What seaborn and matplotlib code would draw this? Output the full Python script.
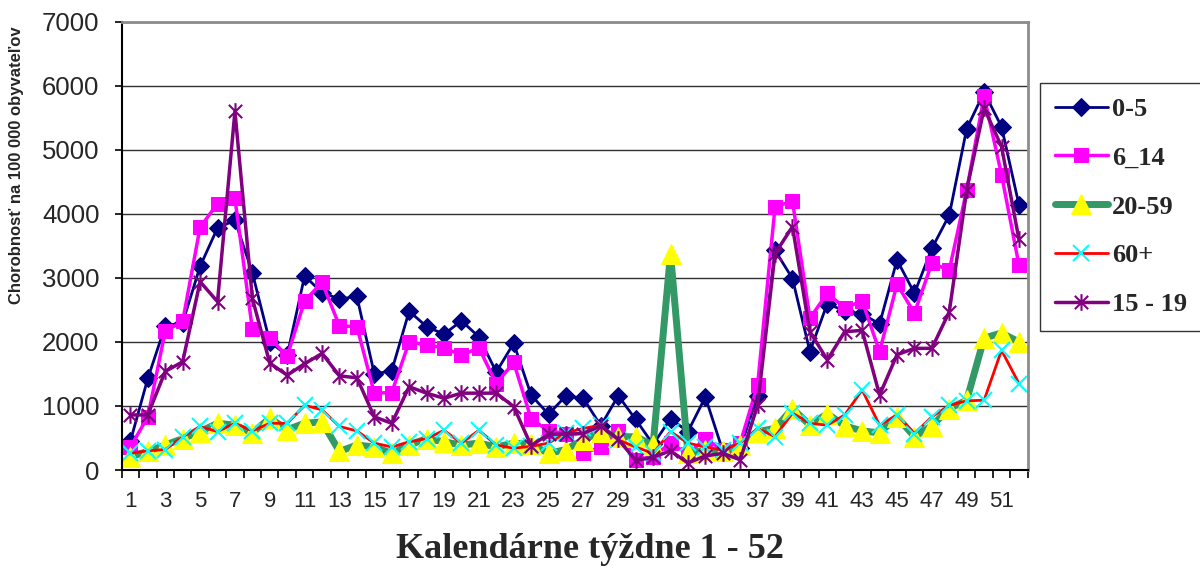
import numpy as np
import pandas as pd
import matplotlib
matplotlib.use("Agg")
import matplotlib.pyplot as plt
import seaborn as sns
from matplotlib.path import Path

# ---------------- data ----------------
weeks = list(range(1, 53))
series_names = ["0-5", "6_14", "20-59", "60+", "15 - 19"]

v_0_5 = [450, 1430, 2250, 2300, 3180, 3780, 3900, 3080, 2000, 1790,
         3030, 2770, 2670, 2710, 1500, 1550, 2480, 2240, 2120, 2330,
         2080, 1530, 1980, 1170, 870, 1160, 1120, 690, 1160, 790,
         400, 800, 600, 1140, 300, 340, 1160, 3430, 2990, 1850,
         2600, 2480, 2440, 2280, 3280, 2760, 3460, 3980, 5330, 5900,
         5360, 4140]
v_6_14 = [360, 830, 2170, 2320, 3790, 4160, 4240, 2200, 2060, 1780,
          2640, 2930, 2250, 2240, 1200, 1210, 2000, 1950, 1910, 1790,
          1910, 1350, 1680, 800, 610, 570, 260, 360, 610, 160,
          210, 420, 250, 490, 310, 420, 1330, 4110, 4200, 2370,
          2760, 2530, 2640, 1850, 2900, 2450, 3230, 3120, 4370, 5840,
          4610, 3200]
v_20_59 = [210, 290, 390, 490, 600, 730, 700, 580, 810, 630,
           730, 750, 290, 390, 360, 260, 390, 490, 440, 390,
           420, 360, 420, 400, 260, 320, 470, 600, 520, 520,
           390, 3380, 260, 310, 290, 390, 600, 650, 960, 700,
           880, 690, 610, 580, 830, 520, 690, 960, 1090, 2060,
           2140, 2000]
v_60 = [260, 300, 320, 520, 680, 600, 730, 610, 730, 730,
        1010, 940, 680, 610, 420, 360, 440, 490, 620, 420,
        620, 390, 340, 370, 420, 580, 650, 700, 470, 360,
        260, 600, 420, 360, 310, 420, 650, 520, 890, 730,
        700, 860, 1250, 700, 860, 570, 830, 1010, 1080, 1090,
        1870, 1350]
v_15_19 = [860, 860, 1540, 1690, 2940, 2630, 5600, 2680, 1670, 1480,
           1660, 1820, 1470, 1440, 830, 730, 1300, 1200, 1120, 1200,
           1200, 1200, 990, 380, 560, 560, 570, 690, 480, 150,
           200, 300, 110, 220, 260, 160, 1010, 3380, 3800, 2160,
           1720, 2160, 2180, 1170, 1800, 1900, 1900, 2470, 4370, 5650,
           5050, 3600]

x_tick_labels = [str(w) for w in range(1, 53, 2)]
y_ticks = [0, 1000, 2000, 3000, 4000, 5000, 6000, 7000]
x_title = "Kalendárne týždne 1 - 52"
y_title = "Chorobnosť na 100 000 obyvateľov"

df = pd.DataFrame({"week": weeks, "0-5": v_0_5, "6_14": v_6_14,
                   "20-59": v_20_59, "60+": v_60, "15 - 19": v_15_19})

# ---------------- style ----------------
sns.set_theme(style="white")
plt.rcParams["font.family"] = ["Liberation Sans", "DejaVu Sans"]

star = Path([(-1, -1), (1, 1), (-1, 1), (1, -1), (0, -1.25), (0, 1.25)],
            [Path.MOVETO, Path.LINETO, Path.MOVETO, Path.LINETO, Path.MOVETO, Path.LINETO])

styles = {
    "0-5": dict(color="#000080", linewidth=2.0, marker="D", markersize=9,
                markerfacecolor="#000080", markeredgecolor="#000080"),
    "6_14": dict(color="#FF00FF", linewidth=2.5, marker="s", markersize=10.5,
                 markerfacecolor="#FF00FF", markeredgecolor="#FF00FF"),
    "20-59": dict(color="#339966", linewidth=5.0, marker="^", markersize=14,
                  markerfacecolor="#FFFF00", markeredgecolor="#FFFF00"),
    "60+": dict(color="#FF0000", linewidth=2.0, marker="x", markersize=11,
                markeredgewidth=1.5, markeredgecolor="#00FFFF"),
    "15 - 19": dict(color="#800080", linewidth=2.5, marker=star, markersize=12,
                    markeredgewidth=1.5, markeredgecolor="#800080", markerfacecolor="none"),
}

fig = plt.figure(figsize=(12, 5.72), dpi=100)
ax = fig.add_axes([0.1014, 0.1783, 0.7550, 0.7837])

for name in series_names:
    sns.lineplot(data=df, x="week", y=name, ax=ax, label=name,
                 errorbar=None, **styles[name])

ax.set_xlim(0.5, 52.5)
ax.set_ylim(0, 7000)
ax.set_xlabel("")
ax.set_ylabel("")

ax.set_yticks(y_ticks)
ax.set_yticklabels([str(v) for v in y_ticks], fontsize=18.5)
ax.tick_params(axis="y", which="major", direction="out", length=5, width=1.2,
               color="black", left=True, pad=11)

ax.set_xticks(list(range(1, 53, 2)))
ax.set_xticklabels(x_tick_labels, fontsize=16)
ax.set_xticks([w + 0.5 for w in range(0, 53)], minor=True)
ax.tick_params(axis="x", which="major", length=0, pad=15)
ax.tick_params(axis="x", which="minor", direction="out", length=6, width=1.2,
               color="black", bottom=True)

ax.yaxis.grid(True, color="#303030", linewidth=1.0)
ax.set_axisbelow(True)
for side in ["left", "bottom"]:
    ax.spines[side].set_color("black")
    ax.spines[side].set_linewidth(1.5)
for side in ["top", "right"]:
    ax.spines[side].set_color("#8c8c8c")
    ax.spines[side].set_linewidth(2.0)

leg = ax.legend(loc="upper left", bbox_to_anchor=(0.867, 0.855),
                bbox_transform=fig.transFigure, frameon=True, fancybox=False,
                prop=dict(family="Liberation Serif", weight="bold", size=19),
                handlelength=2.0, handletextpad=0.15, labelspacing=0.96,
                borderpad=0.55, borderaxespad=0)
leg.get_frame().set_edgecolor("black")
leg.get_frame().set_linewidth(1.0)

fig.text(590 / 1200, 1 - 550 / 572, x_title, ha="center", va="center",
         family="Liberation Serif", weight="bold", fontsize=26)
fig.text(17 / 1200, 1 - 165 / 572, y_title, ha="center", va="center",
         rotation=90, fontsize=12, weight="bold")

fig.savefig("out.png", dpi=100)
